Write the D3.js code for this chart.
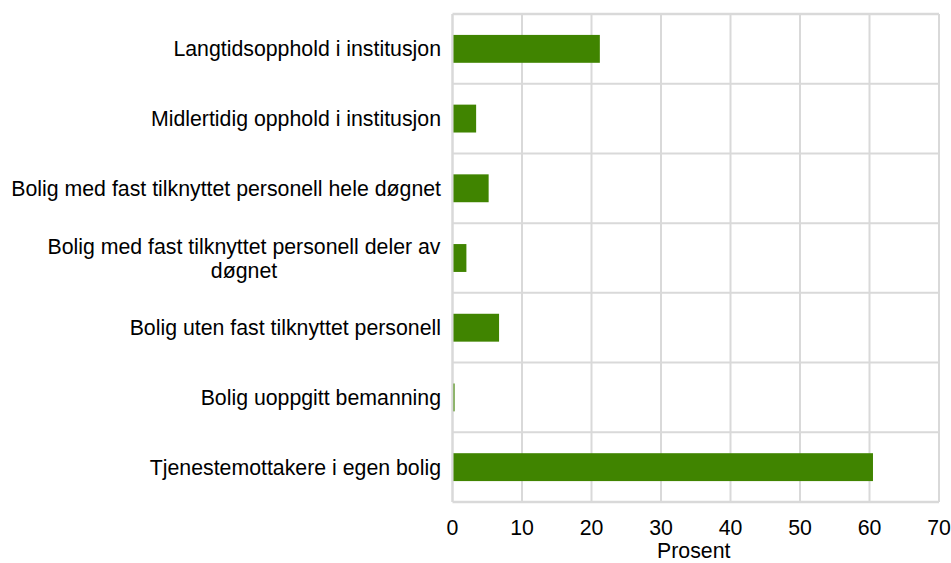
<!DOCTYPE html>
<html><head><meta charset="utf-8">
<script src="https://cdn.jsdelivr.net/npm/d3@7"></script>
<style>body{margin:0;background:#fff}svg{display:block}text{font-family:"Liberation Sans",Arial,sans-serif}</style>
</head><body><svg id="c" width="951" height="563"></svg>
<script>
const categories = [
  "Langtidsopphold i institusjon",
  "Midlertidig opphold i institusjon",
  "Bolig med fast tilknyttet personell hele døgnet",
  "Bolig med fast tilknyttet personell deler av|døgnet",
  "Bolig uten fast tilknyttet personell",
  "Bolig uoppgitt bemanning",
  "Tjenestemottakere i egen bolig"
];
const values = [21.2, 3.4, 5.2, 2.0, 6.7, 0.3, 60.5];
const xTicks = [0, 10, 20, 30, 40, 50, 60, 70];
const xTitle = "Prosent";

const svg = d3.select("#c");
const L = 452.5, R = 939, T = 14, B = 502;
const FS = 21.3;
const x = d3.scaleLinear().domain([0, 70]).range([L, R]);
const y = d3.scaleBand().domain(categories).range([T, B]).paddingInner(0.6).paddingOuter(0.3);
const grid = "#d9d9d9";

svg.append("g").selectAll("line").data(xTicks).join("line")
  .attr("x1", d => x(d)).attr("x2", d => x(d)).attr("y1", T).attr("y2", B)
  .attr("stroke", grid).attr("stroke-width", d => d === 0 ? 2.5 : 2);
const step = (B - T) / categories.length;
const bounds = d3.range(categories.length + 1).map(i => T + i * step);
svg.append("g").selectAll("line").data(bounds).join("line")
  .attr("x1", L).attr("x2", R).attr("y1", d => d).attr("y2", d => d)
  .attr("stroke", grid).attr("stroke-width", (d, i) => (i === 0 || i === categories.length) ? 2.5 : 2);

svg.append("g").selectAll("rect").data(categories).join("rect")
  .attr("x", x(0) + 1).attr("y", d => y(d))
  .attr("width", (d, i) => Math.max(0, x(values[i]) - x(0) - 1))
  .attr("height", y.bandwidth())
  .attr("fill", "#408400");

const lg = svg.append("g");
categories.forEach(c => {
  const lines = c.split("|");
  const cy = y(c) + y.bandwidth() / 2;
  if (lines.length === 1) {
    lg.append("text").attr("x", 441).attr("y", cy + 7.5).attr("text-anchor", "end")
      .attr("font-size", FS).attr("fill", "#000").text(lines[0]);
  } else {
    const t = lg.append("text").attr("font-size", FS).attr("fill", "#000").attr("text-anchor", "middle");
    lines.forEach((ln, k) => {
      t.append("tspan").attr("x", 244).attr("y", cy + 7.5 + (k - (lines.length - 1) / 2) * 24).text(ln);
    });
  }
});

svg.append("g").selectAll("text").data(xTicks).join("text")
  .attr("x", d => x(d)).attr("y", 535).attr("text-anchor", "middle")
  .attr("font-size", FS).attr("fill", "#000").text(d => d);
svg.append("text").attr("x", (L + R) / 2 - 2).attr("y", 558).attr("text-anchor", "middle")
  .attr("font-size", FS).attr("fill", "#000").text(xTitle);
</script></body></html>
